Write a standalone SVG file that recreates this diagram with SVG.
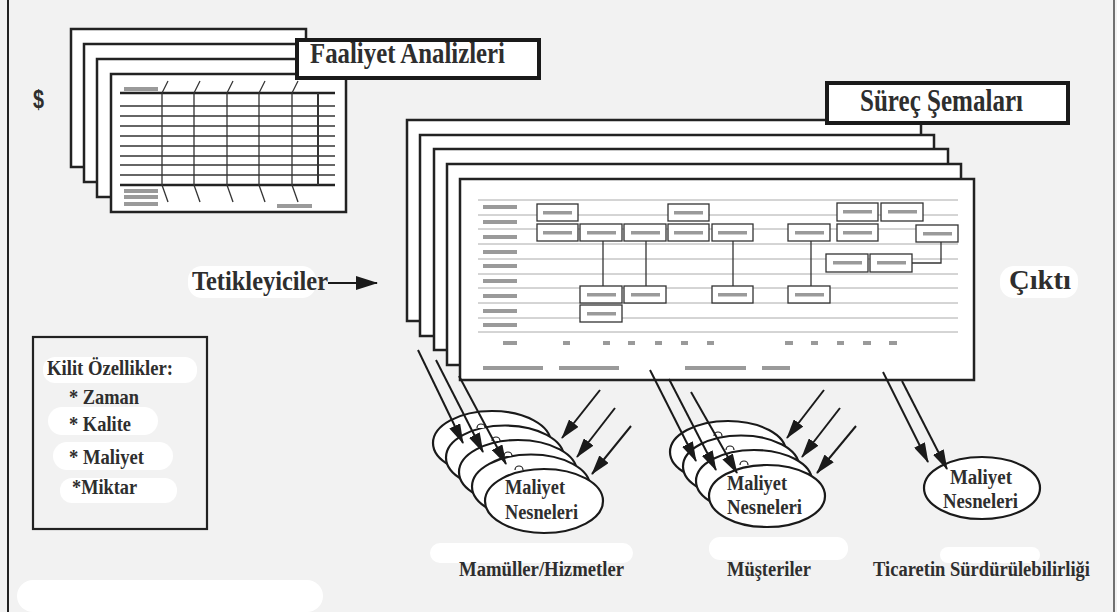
<svg xmlns="http://www.w3.org/2000/svg" width="1117" height="612" viewBox="0 0 1117 612">
<defs>
<style>
.t{font-family:"Liberation Serif","Times New Roman",serif;font-weight:bold;fill:#2e2e2e}
.sheet{fill:#fff;stroke:#222;stroke-width:2.5}
.lbl{fill:#fff;stroke:#1a1a1a;stroke-width:4}
.thick{stroke:#222;stroke-width:2.4}
.thin{stroke:#333;stroke-width:1.3}
.row{stroke:#aaa;stroke-width:1}
.bar{fill:#9a9a9a}
.box{fill:#fff;stroke:#333;stroke-width:1.3}
.conn{stroke:#333;stroke-width:1.3;fill:none}
.ell{fill:#fff;stroke:#1a1a1a;stroke-width:2.2}
.arr{stroke:#1a1a1a;stroke-width:2;fill:none;marker-end:url(#ah)}
.blob{fill:#fff}
</style>
<marker id="ah" viewBox="0 0 20 12" refX="19" refY="6" markerWidth="20" markerHeight="12" markerUnits="userSpaceOnUse" orient="auto">
<path d="M0,0 L20,6 L0,12 z" fill="#1a1a1a"/>
</marker>
<marker id="ah2" viewBox="0 0 22 14" refX="21" refY="7" markerWidth="22" markerHeight="14" markerUnits="userSpaceOnUse" orient="auto">
<path d="M0,0 L22,7 L0,14 z" fill="#1a1a1a"/>
</marker>
</defs>
<rect width="1117" height="612" fill="#f2f2f2"/>
<g id="background-patches">
<rect class="blob" x="17" y="580" width="306" height="32" rx="16"/>
<rect class="blob" x="430" y="543" width="203" height="20" rx="10"/>
<rect class="blob" x="709" y="537" width="139" height="23" rx="11"/>
<rect class="blob" x="940" y="547" width="100" height="16" rx="8"/>
<rect class="blob" x="188" y="266" width="128" height="32" rx="14"/>
<rect class="blob" x="1000" y="266" width="78" height="32" rx="14"/>
<rect class="blob" x="43" y="357" width="154" height="26" rx="12"/>
<rect class="blob" x="48" y="407" width="110" height="28" rx="14"/>
<rect class="blob" x="53" y="442" width="120" height="28" rx="14"/>
<rect class="blob" x="60" y="478" width="117" height="25" rx="12"/>
</g>
<g id="frame">
<line x1="8" y1="0" x2="8" y2="612" stroke="#222" stroke-width="2"/>
<line x1="1114" y1="0" x2="1114" y2="612" stroke="#444" stroke-width="1.5"/>
</g>
<g id="dollar">
<text class="t" x="33" y="108" style="font-family:'Liberation Sans',Arial,sans-serif;font-size:26px" textLength="11" lengthAdjust="spacingAndGlyphs">$</text>
</g>
<g id="faaliyet-analizleri">
<rect class="sheet" x="71" y="29" width="235" height="138"/>
<rect class="sheet" x="84" y="44" width="235" height="138"/>
<rect class="sheet" x="97" y="59" width="235" height="138"/>
<rect class="sheet" x="111" y="74" width="235" height="138"/>
<rect class="bar" x="124" y="87" width="34" height="4"/>
<line class="thick" x1="120" y1="93" x2="335" y2="93"/>
<line class="thick" x1="120" y1="185" x2="335" y2="185"/>
<g class="thin">
<line x1="120" y1="106" x2="335" y2="106"/>
<line x1="120" y1="116" x2="335" y2="116"/>
<line x1="120" y1="126" x2="335" y2="126"/>
<line x1="120" y1="136" x2="335" y2="136"/>
<line x1="120" y1="146" x2="335" y2="146"/>
<line x1="120" y1="156" x2="335" y2="156"/>
<line x1="120" y1="165" x2="335" y2="165"/>
<line x1="120" y1="175" x2="335" y2="175"/>
<line x1="162" y1="93" x2="162" y2="185"/>
<line x1="194" y1="93" x2="194" y2="185"/>
<line x1="227" y1="93" x2="227" y2="185"/>
<line x1="259" y1="93" x2="259" y2="185"/>
<line x1="292" y1="93" x2="292" y2="185"/>
<line x1="318" y1="93" x2="318" y2="185" stroke-width="2"/>
<line x1="162" y1="93" x2="168" y2="81"/>
<line x1="194" y1="93" x2="200" y2="81"/>
<line x1="227" y1="93" x2="233" y2="81"/>
<line x1="259" y1="93" x2="265" y2="81"/>
<line x1="292" y1="93" x2="298" y2="81"/>
<line x1="162" y1="185" x2="168" y2="202"/>
<line x1="194" y1="185" x2="200" y2="202"/>
<line x1="227" y1="185" x2="233" y2="202"/>
<line x1="259" y1="185" x2="265" y2="202"/>
<line x1="292" y1="185" x2="298" y2="202"/>
</g>
<rect class="bar" x="124" y="189" width="34" height="4"/>
<rect class="bar" x="124" y="195" width="34" height="4"/>
<rect class="bar" x="124" y="202" width="34" height="4"/>
<rect class="bar" x="277" y="204" width="35" height="4"/>
<rect class="lbl" x="297" y="40" width="242" height="38"/>
<text class="t" x="310" y="63" style="font-size:29px" textLength="195" lengthAdjust="spacingAndGlyphs">Faaliyet Analizleri</text>
</g>
<g id="surec-semalari">
<rect class="sheet" x="407" y="120" width="514" height="201"/>
<rect class="sheet" x="420" y="135" width="514" height="201"/>
<rect class="sheet" x="434" y="149" width="514" height="201"/>
<rect class="sheet" x="447" y="164" width="514" height="201"/>
<rect class="sheet" x="460" y="179" width="514" height="201"/>
<g class="row">
<line x1="478" y1="200" x2="958" y2="200"/>
<line x1="478" y1="215" x2="958" y2="215"/>
<line x1="478" y1="229" x2="958" y2="229"/>
<line x1="478" y1="244" x2="958" y2="244"/>
<line x1="478" y1="259" x2="958" y2="259"/>
<line x1="478" y1="274" x2="958" y2="274"/>
<line x1="478" y1="288" x2="958" y2="288"/>
<line x1="478" y1="303" x2="958" y2="303"/>
<line x1="478" y1="318" x2="958" y2="318"/>
<line x1="478" y1="332" x2="958" y2="332"/>
</g>
<g class="bar">
<rect x="483" y="205" width="34" height="4"/>
<rect x="483" y="220" width="34" height="4"/>
<rect x="483" y="235" width="34" height="4"/>
<rect x="483" y="250" width="34" height="4"/>
<rect x="483" y="264" width="34" height="4"/>
<rect x="483" y="279" width="34" height="4"/>
<rect x="483" y="294" width="34" height="4"/>
<rect x="483" y="309" width="34" height="4"/>
<rect x="483" y="323" width="34" height="4"/>
</g>
<g class="conn">
<line x1="603" y1="241" x2="603" y2="286"/>
<line x1="646" y1="241" x2="646" y2="286"/>
<line x1="733" y1="241" x2="733" y2="286"/>
<line x1="811" y1="241" x2="811" y2="286"/>
<polyline points="941,242 941,263 912,263"/>
</g>
<g class="box">
<rect x="537" y="204" width="41" height="17"/>
<rect x="668" y="204" width="41" height="17"/>
<rect x="837" y="203" width="41" height="18"/>
<rect x="881" y="203" width="42" height="18"/>
<rect x="537" y="224" width="41" height="17"/>
<rect x="580" y="224" width="42" height="17"/>
<rect x="624" y="224" width="42" height="17"/>
<rect x="668" y="224" width="41" height="17"/>
<rect x="712" y="224" width="41" height="17"/>
<rect x="788" y="224" width="42" height="17"/>
<rect x="837" y="224" width="41" height="17"/>
<rect x="916" y="225" width="42" height="17"/>
<rect x="826" y="254" width="42" height="18"/>
<rect x="870" y="254" width="42" height="18"/>
<rect x="580" y="286" width="42" height="17"/>
<rect x="624" y="286" width="42" height="17"/>
<rect x="712" y="286" width="41" height="17"/>
<rect x="788" y="286" width="42" height="17"/>
<rect x="580" y="305" width="42" height="17"/>
</g>
<g class="bar">
<rect x="543" y="211" width="29" height="3.5"/>
<rect x="674" y="211" width="29" height="3.5"/>
<rect x="843" y="210" width="29" height="3.5"/>
<rect x="888" y="210" width="29" height="3.5"/>
<rect x="543" y="231" width="29" height="3.5"/>
<rect x="587" y="231" width="29" height="3.5"/>
<rect x="631" y="231" width="29" height="3.5"/>
<rect x="674" y="231" width="29" height="3.5"/>
<rect x="718" y="231" width="29" height="3.5"/>
<rect x="795" y="231" width="29" height="3.5"/>
<rect x="843" y="231" width="29" height="3.5"/>
<rect x="923" y="232" width="29" height="3.5"/>
<rect x="833" y="261" width="29" height="3.5"/>
<rect x="877" y="261" width="29" height="3.5"/>
<rect x="587" y="293" width="29" height="3.5"/>
<rect x="631" y="293" width="29" height="3.5"/>
<rect x="718" y="293" width="29" height="3.5"/>
<rect x="795" y="293" width="29" height="3.5"/>
<rect x="587" y="312" width="29" height="3.5"/>
<rect x="503" y="341" width="14" height="4"/>
<rect x="563" y="341" width="7" height="4"/>
<rect x="603" y="341" width="7" height="4"/>
<rect x="628" y="341" width="7" height="4"/>
<rect x="655" y="341" width="7" height="4"/>
<rect x="681" y="341" width="7" height="4"/>
<rect x="707" y="341" width="7" height="4"/>
<rect x="785" y="341" width="8" height="4"/>
<rect x="811" y="341" width="7" height="4"/>
<rect x="837" y="341" width="7" height="4"/>
<rect x="863" y="341" width="8" height="4"/>
<rect x="889" y="341" width="8" height="4"/>
<rect x="483" y="366" width="60" height="4"/>
<rect x="559" y="366" width="60" height="4"/>
<rect x="685" y="366" width="61" height="4"/>
<rect x="762" y="366" width="28" height="4"/>
</g>
<rect class="lbl" x="827" y="83" width="241" height="40"/>
<text class="t" x="860" y="111" style="font-size:31px" textLength="163" lengthAdjust="spacingAndGlyphs">Süreç Şemaları</text>
</g>
<g id="tetikleyiciler">
<text class="t" x="192" y="290" style="font-size:28px" textLength="136" lengthAdjust="spacingAndGlyphs">Tetikleyiciler</text>
</g>
<g id="cikti">
<text class="t" x="1009" y="289" style="font-size:28px" textLength="62" lengthAdjust="spacingAndGlyphs">Çıktı</text>
</g>
<g id="kilit-ozellikler">
<rect x="33" y="337" width="174" height="192" fill="none" stroke="#222" stroke-width="2.2"/>
<text class="t" x="47" y="375" style="font-size:21px" textLength="126" lengthAdjust="spacingAndGlyphs">Kilit Özellikler:</text>
<text class="t" x="69" y="404" style="font-size:21px" textLength="70" lengthAdjust="spacingAndGlyphs">* Zaman</text>
<text class="t" x="69" y="431" style="font-size:21px" textLength="62" lengthAdjust="spacingAndGlyphs">* Kalite</text>
<text class="t" x="69" y="464" style="font-size:21px" textLength="75" lengthAdjust="spacingAndGlyphs">* Maliyet</text>
<text class="t" x="72" y="494" style="font-size:21px" textLength="65" lengthAdjust="spacingAndGlyphs">*Miktar</text>
</g>
<g id="maliyet-nesneleri-1">
<ellipse class="ell" cx="492" cy="443" rx="59" ry="32"/>
<ellipse class="ell" cx="505" cy="457.5" rx="59" ry="32"/>
<ellipse class="ell" cx="518" cy="472" rx="59" ry="32"/>
<ellipse class="ell" cx="531" cy="486.5" rx="59" ry="32"/>
<ellipse class="ell" cx="544" cy="501" rx="59" ry="32"/>
<g fill="#fff" stroke="#1a1a1a" stroke-width="1.2">
<path d="M477,428 a4,4 0 0 1 8,0"/>
<path d="M492,441 a4,4 0 0 1 8,0"/>
<path d="M504,456 a4,4 0 0 1 8,0"/>
<path d="M515,470 a4,4 0 0 1 8,0"/>
</g>
<text class="t" x="505" y="494" style="font-size:20px" textLength="60" lengthAdjust="spacingAndGlyphs">Maliyet</text>
<text class="t" x="505" y="519" style="font-size:20px" textLength="73" lengthAdjust="spacingAndGlyphs">Nesneleri</text>
</g>
<g id="maliyet-nesneleri-2">
<ellipse class="ell" cx="728" cy="452" rx="58" ry="31"/>
<ellipse class="ell" cx="741" cy="466.5" rx="58" ry="31"/>
<ellipse class="ell" cx="754" cy="481" rx="58" ry="31"/>
<ellipse class="ell" cx="767" cy="496" rx="58" ry="31"/>
<g fill="#fff" stroke="#1a1a1a" stroke-width="1.2">
<path d="M714,436 a4,4 0 0 1 8,0"/>
<path d="M726,450 a4,4 0 0 1 8,0"/>
<path d="M740,465 a4,4 0 0 1 8,0"/>
</g>
<text class="t" x="727" y="490" style="font-size:20px" textLength="60" lengthAdjust="spacingAndGlyphs">Maliyet</text>
<text class="t" x="727" y="514" style="font-size:20px" textLength="75" lengthAdjust="spacingAndGlyphs">Nesneleri</text>
</g>
<g id="maliyet-nesneleri-3">
<ellipse class="ell" cx="982" cy="488" rx="58" ry="31"/>
<text class="t" x="950" y="484" style="font-size:20px" textLength="62" lengthAdjust="spacingAndGlyphs">Maliyet</text>
<text class="t" x="943" y="508" style="font-size:20px" textLength="75" lengthAdjust="spacingAndGlyphs">Nesneleri</text>
</g>
<g id="category-labels">
<text class="t" x="459" y="576" style="font-size:20px" textLength="165" lengthAdjust="spacingAndGlyphs">Mamüller/Hizmetler</text>
<text class="t" x="727" y="576" style="font-size:20px" textLength="84" lengthAdjust="spacingAndGlyphs">Müşteriler</text>
<text class="t" x="873" y="576" style="font-size:20px" textLength="217" lengthAdjust="spacingAndGlyphs">Ticaretin Sürdürülebilirliği</text>
</g>
<g id="connectors">
<line x1="328" y1="283" x2="377" y2="283" stroke="#1a1a1a" stroke-width="2.2" marker-end="url(#ah2)"/>
<line class="arr" x1="418" y1="350" x2="463" y2="443"/>
<line class="arr" x1="436" y1="360" x2="483" y2="452"/>
<line class="arr" x1="459" y1="376" x2="506" y2="464"/>
<line class="arr" x1="600" y1="390" x2="562" y2="438"/>
<line class="arr" x1="615" y1="408" x2="577" y2="457"/>
<line class="arr" x1="631" y1="426" x2="592" y2="474"/>
<line class="arr" x1="650" y1="370" x2="696" y2="461"/>
<line class="arr" x1="669" y1="379" x2="716" y2="470"/>
<line class="arr" x1="691" y1="392" x2="737" y2="473"/>
<line class="arr" x1="824" y1="390" x2="787" y2="438"/>
<line class="arr" x1="840" y1="408" x2="802" y2="457"/>
<line class="arr" x1="856" y1="426" x2="817" y2="473"/>
<line class="arr" x1="883" y1="372" x2="928" y2="462"/>
<line class="arr" x1="902" y1="381" x2="947" y2="469"/>
</g>
</svg>
